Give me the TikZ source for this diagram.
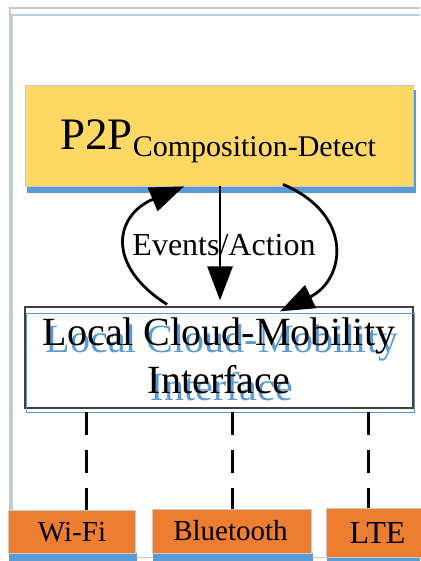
\documentclass[tikz,border=0pt]{standalone}
\usepackage{fontspec}
\setmainfont{Liberation Serif}
\usetikzlibrary{arrows.meta}
\definecolor{boxyellow}{HTML}{FDD865}
\definecolor{boxorange}{HTML}{ED7D31}
\definecolor{shadowblue}{HTML}{5B9BD5}
\definecolor{framegray}{HTML}{C8C8C8}
\definecolor{frameblue}{HTML}{B4D0EC}
\definecolor{boxgray}{HTML}{404040}
\tikzset{
  ybox/.style={draw=framegray, line width=0.8pt, fill=boxyellow, inner sep=0pt},
  obox/.style={draw=framegray, line width=0.8pt, fill=boxorange, inner sep=0pt},
  wbox/.style={draw=boxgray, line width=1.2pt, fill=white, inner sep=0pt},
  txt/.style={anchor=base, inner sep=0pt},
  flow/.style={line width=2.8pt, -{Triangle[length=34pt,width=25pt]}},
  dashline/.style={line width=3pt, dash pattern=on 23pt off 15pt},
  shadowfill/.style={fill=shadowblue}
}
\begin{document}
\begin{tikzpicture}[x=1pt,y=-1pt]
\useasboundingbox (0,0) rectangle (420,561);
% frame
\draw[framegray, line width=1.5pt] (10,561) -- (10,8) -- (420,8);
\draw[frameblue, line width=2pt] (12,561) -- (12,15) -- (420,15);
\draw[framegray, line width=1pt] (10,557) -- (420,557);
% P2P box
\fill[shadowfill] (27,186) rectangle (416,193);
\fill[shadowfill] (413,90) rectangle (416,193);
\node[ybox, minimum width=388pt, minimum height=101pt] (p2p) at (219,135.5) {};
\node[anchor=base west, inner sep=0pt] (p2ptext) at (60,150)
  {\fontsize{45}{50}\selectfont P2P\raisebox{-7pt}{\fontsize{30}{32}\selectfont Composition-Detect}};
% Local box
\node[wbox, minimum width=388pt, minimum height=101pt] (local) at (219,357.5) {};
\draw[shadowblue, line width=0.8pt] (26,313) rectangle (414,412);
\node[txt, text=shadowblue] (l1b) at (222,352) {\fontsize{40}{48}\selectfont Local Cloud-Mobility};
\node[txt, text=shadowblue] (l2b) at (222,400) {\fontsize{40}{48}\selectfont Interface};
\node[txt] (l1) at (219,345) {\fontsize{40}{48}\selectfont Local Cloud-Mobility};
\node[txt] (l2) at (219,393) {\fontsize{40}{48}\selectfont Interface};
% label
\node[txt] (lbl) at (224,255) {\fontsize{32}{36}\selectfont Events/Action};
% arrows
\draw[flow] ([xshift=-52pt,yshift=2pt]local.north) .. controls (105,265) and (115,215) .. ([xshift=-35pt]p2p.south);
\draw[flow] ([xshift=1pt]p2p.south) -- ([xshift=1pt,yshift=6pt]local.north);
\draw[flow] ([xshift=64pt,yshift=2pt]p2p.south) .. controls (355,215) and (345,280) .. ([xshift=61pt,yshift=-5pt]local.north);
% bottom boxes
\fill[shadowfill] (9,553) rectangle (137,561);
\fill[shadowfill] (153,553) rectangle (313,561);
\fill[shadowfill] (327,557) rectangle (420,561);
\node[obox, minimum width=127pt, minimum height=43pt] (wifi) at (71.5,531.5) {};
\node[obox, minimum width=159pt, minimum height=44pt] (bt) at (231.5,531) {};
\node[obox, minimum width=98pt, minimum height=49pt] (lte) at (375,532.5) {};
\node[txt] (wifitext) at (72,541) {\fontsize{29}{32}\selectfont Wi-Fi};
\node[txt] (bttext) at (230.5,540) {\fontsize{29}{32}\selectfont Bluetooth};
\node[txt] (ltetext) at (377.5,543) {\fontsize{32}{36}\selectfont LTE};
% dashed links
\draw[dashline] ([xshift=-133pt,yshift=-3pt]local.south) -- ([xshift=14.5pt]wifi.north);
\draw[dashline] ([xshift=13pt,yshift=-3pt]local.south) -- ([xshift=0.5pt]bt.north);
\draw[dashline] ([xshift=149pt,yshift=-3pt]local.south) -- ([xshift=-7pt]lte.north);
\end{tikzpicture}
\end{document}
